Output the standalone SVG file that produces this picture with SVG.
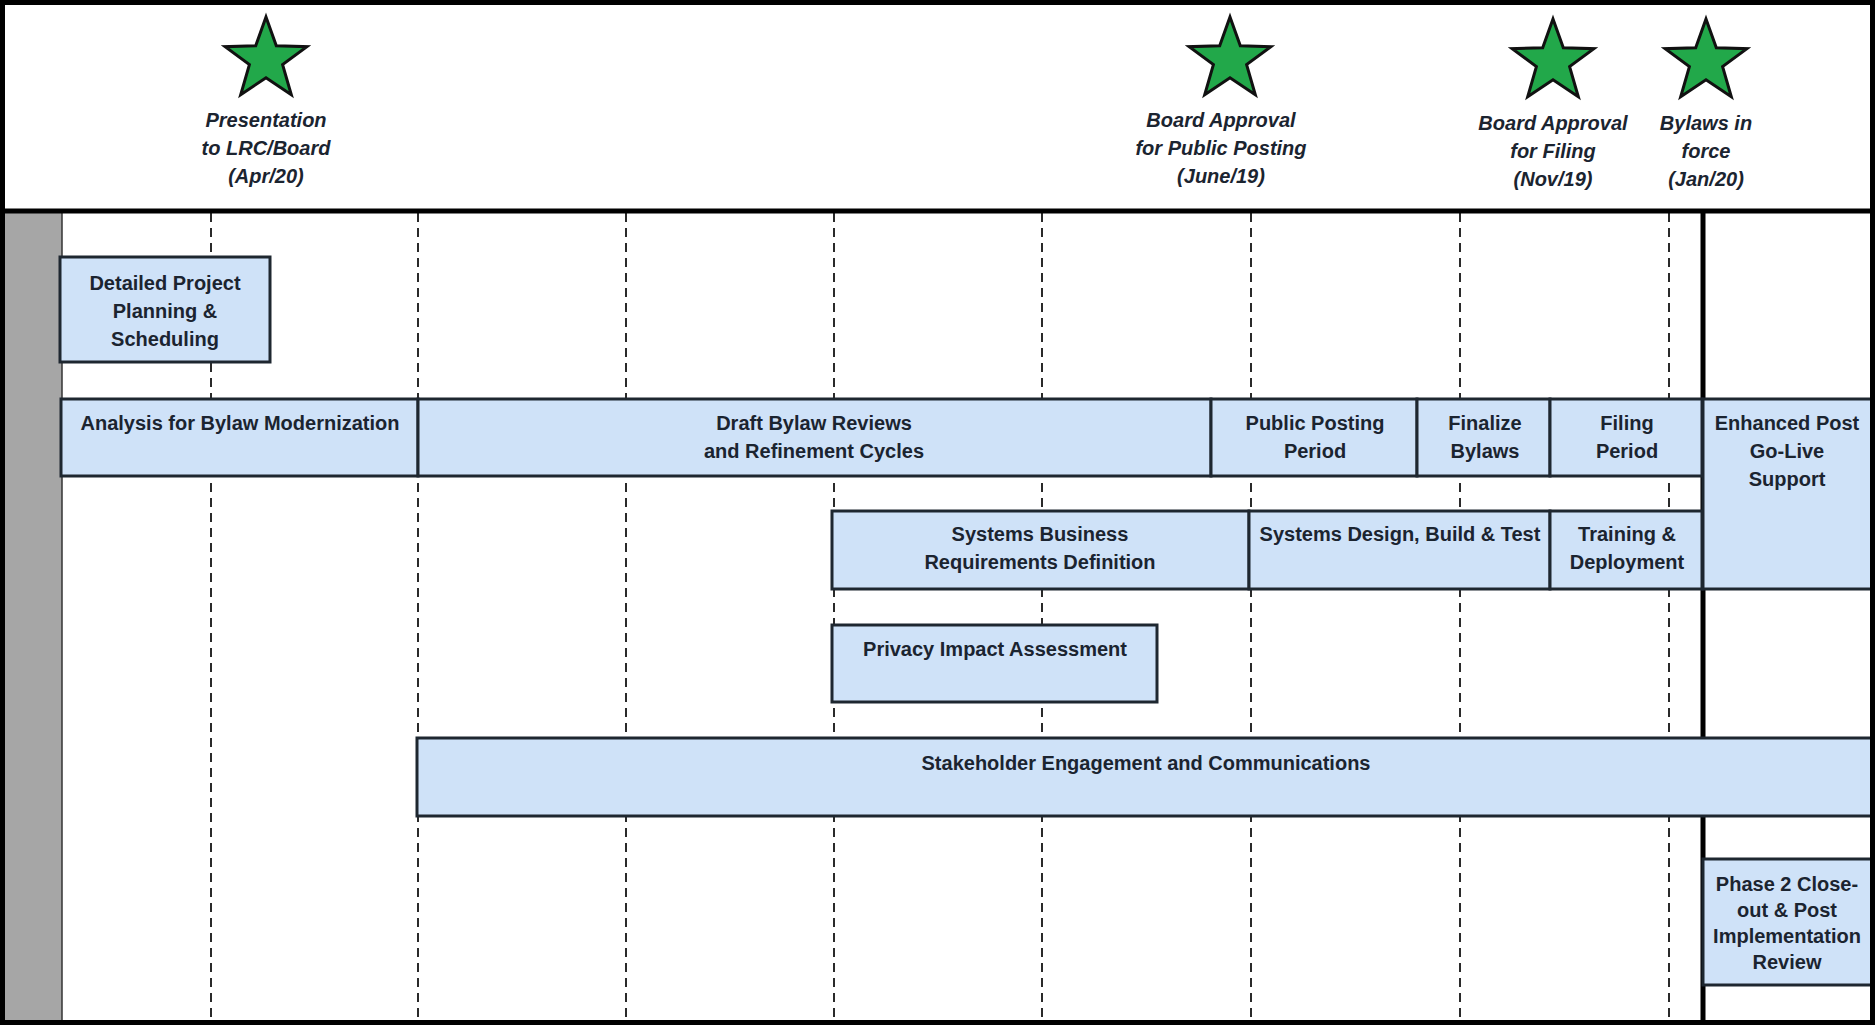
<svg xmlns="http://www.w3.org/2000/svg" width="1875" height="1025" viewBox="0 0 1875 1025">
<style>
.bx{fill:#cfe2f8;stroke:#1e2730;stroke-width:3}
.t{font-family:"Liberation Sans",Arial,sans-serif;font-weight:bold;font-size:20px;fill:#1b2430;text-anchor:middle}
.ms{font-family:"Liberation Sans",Arial,sans-serif;font-weight:bold;font-style:italic;font-size:20px;fill:#1b2430;text-anchor:middle}
.grid{stroke:#2a2a2a;stroke-width:2;stroke-dasharray:9 6}
.star{fill:#22a84a;stroke:#111;stroke-width:3;stroke-linejoin:miter}
</style>
<defs>
<polygon id="starShape" points="0,-43 10.3,-14.2 40.9,-13.3 16.6,4.6 25.3,34.8 0,17.7 -25.3,34.8 -16.6,4.6 -40.9,-13.3 -10.3,-14.2"/>
</defs>
<rect x="0" y="0" width="1875" height="1025" fill="#ffffff"/>
<rect x="5" y="212" width="57" height="810" fill="#a6a6a6"/>
<line x1="62" y1="212" x2="62" y2="1022" stroke="#333" stroke-width="1.5"/>
<g id="grid">
<line class="grid" x1="211" y1="213" x2="211" y2="1021"/>
<line class="grid" x1="418" y1="213" x2="418" y2="1021"/>
<line class="grid" x1="626" y1="213" x2="626" y2="1021"/>
<line class="grid" x1="834" y1="213" x2="834" y2="1021"/>
<line class="grid" x1="1042" y1="213" x2="1042" y2="1021"/>
<line class="grid" x1="1251" y1="213" x2="1251" y2="1021"/>
<line class="grid" x1="1460" y1="213" x2="1460" y2="1021"/>
<line class="grid" x1="1669" y1="213" x2="1669" y2="1021"/>
</g>
<g id="divider" stroke="#000" stroke-width="5">
<line x1="1703" y1="212" x2="1703" y2="738"/>
<line x1="1703" y1="816" x2="1703" y2="1022"/>
</g>
<g id="milestones">
<g id="m1"><use href="#starShape" class="star" transform="translate(266,60)"/>
<text class="ms" x="266" y="127">Presentation</text><text class="ms" x="266" y="155">to LRC/Board</text><text class="ms" x="266" y="183">(Apr/20)</text></g>
<g id="m2"><use href="#starShape" class="star" transform="translate(1230,60)"/>
<text class="ms" x="1221" y="127">Board Approval</text><text class="ms" x="1221" y="155">for Public Posting</text><text class="ms" x="1221" y="183">(June/19)</text></g>
<g id="m3"><use href="#starShape" class="star" transform="translate(1553,62)"/>
<text class="ms" x="1553" y="130">Board Approval</text><text class="ms" x="1553" y="158">for Filing</text><text class="ms" x="1553" y="186">(Nov/19)</text></g>
<g id="m4"><use href="#starShape" class="star" transform="translate(1706,62)"/>
<text class="ms" x="1706" y="130">Bylaws in</text><text class="ms" x="1706" y="158">force</text><text class="ms" x="1706" y="186">(Jan/20)</text></g>
</g>
<g id="detailed"><rect class="bx" x="60" y="257" width="210" height="105"/>
<text class="t" x="165" y="290">Detailed Project</text><text class="t" x="165" y="318">Planning &amp;</text><text class="t" x="165" y="346">Scheduling</text></g>
<g id="analysis"><rect class="bx" x="61" y="399" width="357" height="77"/>
<text class="t" x="240" y="430">Analysis for Bylaw Modernization</text></g>
<g id="draft"><rect class="bx" x="418" y="399" width="793" height="77"/>
<text class="t" x="814" y="430">Draft Bylaw Reviews</text><text class="t" x="814" y="458">and Refinement Cycles</text></g>
<g id="public"><rect class="bx" x="1211" y="399" width="206" height="77"/>
<text class="t" x="1315" y="430">Public Posting</text><text class="t" x="1315" y="458">Period</text></g>
<g id="finalize"><rect class="bx" x="1417" y="399" width="133" height="77"/>
<text class="t" x="1485" y="430">Finalize</text><text class="t" x="1485" y="458">Bylaws</text></g>
<g id="filing"><rect class="bx" x="1550" y="399" width="152" height="77"/>
<text class="t" x="1627" y="430">Filing</text><text class="t" x="1627" y="458">Period</text></g>
<g id="enhanced"><rect class="bx" x="1703" y="399" width="169" height="190"/>
<text class="t" x="1787" y="430">Enhanced Post</text><text class="t" x="1787" y="458">Go-Live</text><text class="t" x="1787" y="486">Support</text></g>
<g id="sysreq"><rect class="bx" x="832" y="511" width="417" height="78"/>
<text class="t" x="1040" y="541">Systems Business</text><text class="t" x="1040" y="569">Requirements Definition</text></g>
<g id="sysdesign"><rect class="bx" x="1249" y="511" width="301" height="78"/>
<text class="t" x="1400" y="541">Systems Design, Build &amp; Test</text></g>
<g id="training"><rect class="bx" x="1550" y="511" width="152" height="78"/>
<text class="t" x="1627" y="541">Training &amp;</text><text class="t" x="1627" y="569">Deployment</text></g>
<g id="privacy"><rect class="bx" x="832" y="625" width="325" height="77"/>
<text class="t" x="995" y="656">Privacy Impact Assessment</text></g>
<g id="stakeholder"><rect class="bx" x="417" y="738" width="1456" height="78"/>
<text class="t" x="1146" y="770">Stakeholder Engagement and Communications</text></g>
<g id="closeout"><rect class="bx" x="1703" y="859" width="169" height="126"/>
<text class="t" x="1787" y="891">Phase 2 Close-</text><text class="t" x="1787" y="917">out &amp; Post</text><text class="t" x="1787" y="943">Implementation</text><text class="t" x="1787" y="969">Review</text></g>
<g id="frame" fill="none" stroke="#000">
<line x1="0" y1="211" x2="1875" y2="211" stroke-width="5"/>
<rect x="2.5" y="2.5" width="1870" height="1020" stroke-width="5"/>
</g>
</svg>
